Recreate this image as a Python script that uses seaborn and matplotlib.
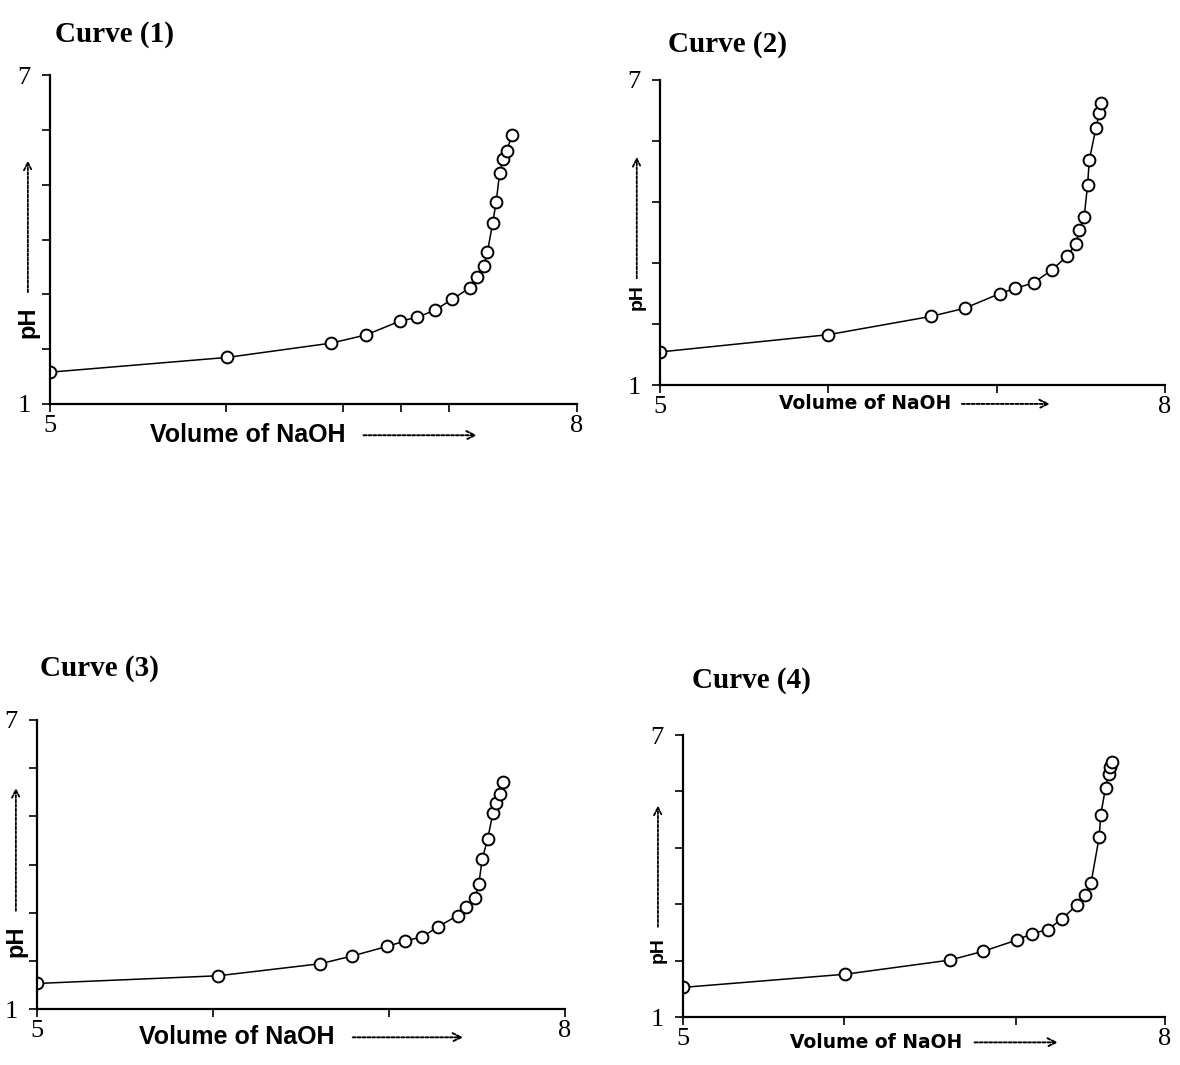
import matplotlib
matplotlib.use("Agg")
import matplotlib.pyplot as plt
import seaborn as sns
import pandas as pd

# ---------------- data ----------------
vol_1 = [5.00, 6.01, 6.60, 6.80, 6.99, 7.09, 7.19, 7.29, 7.39, 7.43, 7.47, 7.49, 7.52, 7.54, 7.56, 7.58, 7.60, 7.63]
ph_1 = [1.58, 1.85, 2.11, 2.26, 2.51, 2.58, 2.71, 2.91, 3.12, 3.32, 3.52, 3.77, 4.30, 4.69, 5.22, 5.47, 5.62, 5.91]

vol_2 = [5.00, 6.00, 6.61, 6.81, 7.02, 7.11, 7.22, 7.33, 7.42, 7.47, 7.49, 7.52, 7.54, 7.55, 7.59, 7.61, 7.62]
ph_2 = [1.65, 1.99, 2.35, 2.51, 2.80, 2.90, 3.01, 3.27, 3.54, 3.77, 4.04, 4.31, 4.93, 5.42, 6.06, 6.35, 6.54]

vol_3 = [5.00, 6.03, 6.61, 6.79, 6.99, 7.09, 7.19, 7.28, 7.39, 7.44, 7.49, 7.51, 7.53, 7.56, 7.59, 7.61, 7.63, 7.65]
ph_3 = [1.53, 1.69, 1.94, 2.10, 2.30, 2.41, 2.50, 2.71, 2.94, 3.12, 3.31, 3.59, 4.12, 4.52, 5.06, 5.28, 5.47, 5.72]

vol_4 = [5.00, 6.01, 6.66, 6.87, 7.08, 7.17, 7.27, 7.36, 7.45, 7.50, 7.54, 7.59, 7.60, 7.63, 7.65, 7.66, 7.67]
ph_4 = [1.63, 1.91, 2.21, 2.40, 2.64, 2.77, 2.86, 3.09, 3.38, 3.60, 3.86, 4.82, 5.30, 5.88, 6.18, 6.32, 6.42]

titles = ["Curve (1)", "Curve (2)", "Curve (3)", "Curve (4)"]
x_label_text = "Volume of NaOH"
y_label_text = "pH"

xticks_1 = [5, 6, 6.67, 7, 7.27, 8]
xticks_2 = [5, 6, 7, 8]
xticks_3 = [5, 6, 7, 8]
xticks_4 = [5, 6, 7.07, 8]
yticks_1 = [1, 2, 3, 4, 5, 6, 7]
yticks_2 = [1, 2.2, 3.4, 4.6, 5.8, 7]
yticks_3 = [1, 2, 3, 4, 5, 6, 7]
yticks_4 = [1, 2.2, 3.4, 4.6, 5.8, 7]

# ---------------- style ----------------
sns.set_theme(style="white")
plt.rcParams["font.family"] = ["Liberation Serif", "DejaVu Serif"]
plt.rcParams["text.color"] = "black"
plt.rcParams["axes.labelcolor"] = "black"
plt.rcParams["xtick.color"] = "black"
plt.rcParams["ytick.color"] = "black"

W, H = 1180, 1065
fig = plt.figure(figsize=(W / 100, H / 100), dpi=100)
fig.patch.set_facecolor("white")


def px_axes(left, right, top, bottom):
    return fig.add_axes([left / W, 1 - bottom / H, (right - left) / W, (bottom - top) / H])


panels = [
    dict(vol=vol_1, ph=ph_1, xt=xticks_1, yt=yticks_1, box=(50, 577, 75, 404),
         title_xy=(55, 34), xl=dict(t0=0.19, a0=0.595, a1=0.81, y=-0.095, fs=18, fam="Liberation Sans"),
         yl=dict(x=-0.042, y0=0.20, a0=0.34, a1=0.74, fs=17)),
    dict(vol=vol_2, ph=ph_2, xt=xticks_2, yt=yticks_2, box=(660, 1165, 80, 385),
         title_xy=(668, 45), xl=dict(t0=0.236, a0=0.598, a1=0.772, y=-0.062, fs=13.5, fam="DejaVu Sans"),
         yl=dict(x=-0.046, y0=0.246, a0=0.35, a1=0.748, fs=14)),
    dict(vol=vol_3, ph=ph_3, xt=xticks_3, yt=yticks_3, box=(37, 565, 720, 1009),
         title_xy=(40, 668), xl=dict(t0=0.193, a0=0.598, a1=0.807, y=-0.098, fs=18, fam="Liberation Sans"),
         yl=dict(x=-0.04, y0=0.18, a0=0.34, a1=0.765, fs=17)),
    dict(vol=vol_4, ph=ph_4, xt=xticks_4, yt=yticks_4, box=(683, 1165, 735, 1017),
         title_xy=(692, 680), xl=dict(t0=0.223, a0=0.605, a1=0.778, y=-0.09, fs=13.5, fam="DejaVu Sans"),
         yl=dict(x=-0.052, y0=0.19, a0=0.32, a1=0.75, fs=14)),
]

for i, p in enumerate(panels):
    left, right, top, bottom = p["box"]
    ax = px_axes(left, right, top, bottom)
    df = pd.DataFrame({"vol": p["vol"], "ph": p["ph"]})
    sns.lineplot(data=df, x="vol", y="ph", ax=ax, estimator=None, sort=False,
                 color="black", linewidth=1.1, marker="o", markersize=8.5,
                 markerfacecolor="white", markeredgecolor="black", markeredgewidth=1.4)
    ax.set_xlim(5, 8)
    ax.set_ylim(1, 7)
    for s in ["top", "right"]:
        ax.spines[s].set_visible(False)
    for s in ["left", "bottom"]:
        ax.spines[s].set_linewidth(1.6)
        ax.spines[s].set_color("black")
    ax.set_xticks(p["xt"])
    ax.set_xticklabels(["5"] + [""] * (len(p["xt"]) - 2) + ["8"])
    ax.set_yticks(p["yt"])
    ax.set_yticklabels(["1"] + [""] * (len(p["yt"]) - 2) + ["7"])
    ax.tick_params(axis="both", direction="out", length=6, width=1.2, colors="black",
                   labelsize=19, left=True, bottom=True)
    ax.tick_params(axis="x", pad=2)
    ax.tick_params(axis="y", pad=8)
    ax.set_xlabel("")
    ax.set_ylabel("")
    ax.set_facecolor("white")

    # title
    tx, ty = p["title_xy"]
    fig.text(tx / W, 1 - ty / H, titles[i], fontsize=21, fontweight="bold",
             family=["Liberation Serif"], ha="left", va="center", color="black")

    # x label with dotted arrow
    xl = p["xl"]
    ax.text(xl["t0"], xl["y"], x_label_text, transform=ax.transAxes, fontsize=xl["fs"],
            fontweight="bold", family=[xl["fam"]], ha="left", va="center", clip_on=False,
            color="black")
    ax.annotate("", xy=(xl["a1"], xl["y"]), xytext=(xl["a0"], xl["y"]),
                xycoords="axes fraction", textcoords="axes fraction",
                arrowprops=dict(arrowstyle="->", linestyle=(0, (1.5, 1)), linewidth=1.4,
                                color="black", mutation_scale=15, shrinkA=0, shrinkB=0),
                annotation_clip=False)

    # y label with dotted arrow
    yl = p["yl"]
    ax.text(yl["x"], yl["y0"], y_label_text, transform=ax.transAxes, fontsize=yl["fs"],
            fontweight="bold", family=["Liberation Sans"], rotation=90, ha="center",
            va="bottom", clip_on=False, color="black")
    ax.annotate("", xy=(yl["x"], yl["a1"]), xytext=(yl["x"], yl["a0"]),
                xycoords="axes fraction", textcoords="axes fraction",
                arrowprops=dict(arrowstyle="->", linestyle=(0, (1.5, 1)), linewidth=1.3,
                                color="black", mutation_scale=14, shrinkA=0, shrinkB=0),
                annotation_clip=False)

fig.savefig("out.png", dpi=100, facecolor="white")
